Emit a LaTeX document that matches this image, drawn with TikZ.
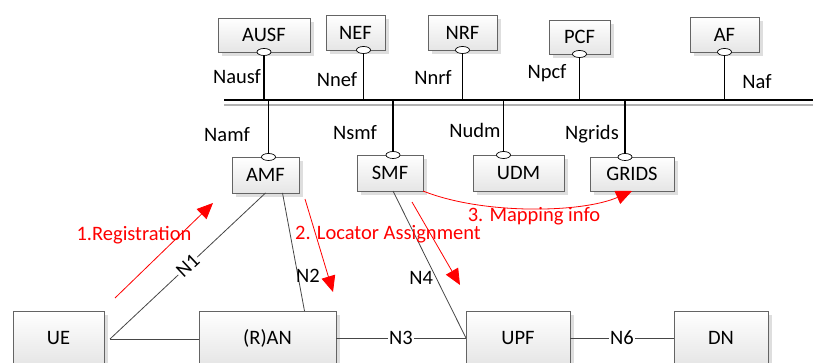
\documentclass[tikz,border=0pt]{standalone}
\usepackage{fontspec}
\setmainfont{Carlito}
\usetikzlibrary{arrows.meta, calc, shadows, shapes.geometric}
\definecolor{myboxline}{RGB}{100, 100, 100}
\definecolor{mylinkgray}{RGB}{70, 70, 70}
\definecolor{myshadow}{RGB}{222, 222, 222}
\definecolor{myred}{RGB}{255, 0, 0}

\tikzset{
  nf/.style={draw=myboxline, line width=0.8pt, top color=white, bottom color=black!10, inner sep=0, outer sep=0, font=\fontsize{20.5}{24}\selectfont, drop shadow={shadow xshift=4pt, shadow yshift=-4pt, fill=myshadow, opacity=1}},
  iface/.style={ellipse, draw=black, fill=white, line width=0.7pt, minimum width=14, minimum height=7, inner sep=0},
  buslink/.style={draw=black, line width=1.6pt},
  link/.style={draw=mylinkgray, line width=0.8pt},
  lbl/.style={font=\fontsize{20.5}{24}\selectfont, inner sep=1},
  lblw/.style={lbl, fill=white},
  redtxt/.style={font=\fontsize{20.5}{24}\selectfont, text=myred, inner sep=0},
  redarrow/.style={draw=myred, line width=0.8pt, -{Triangle[length=16, width=14]}}
}

\begin{document}
\begin{tikzpicture}[x=1pt, y=-1pt]
\useasboundingbox (0,0) rectangle (813,363);

% --- Service bus ---
\coordinate (busL) at (224,100);
\coordinate (busR) at (813,100);
\draw[black!30, line width=1.5pt] ($(busL)+(0,5)$) -- ($(busR)+(0,5)$);
\draw[line width=2pt] (busL) -- (busR);

% --- Top functions ---
\node[nf, minimum width=92, minimum height=34] (AUSF) at (264,35) {AUSF};
\node[nf, minimum width=59, minimum height=35] (NEF) at (355.5,32.5) {NEF};
\node[nf, minimum width=69, minimum height=35] (NRF) at (462.5,32.5) {NRF};
\node[nf, minimum width=61, minimum height=34] (PCF) at (579.5,37) {PCF};
\node[nf, minimum width=69, minimum height=35] (AF) at (724.5,34.5) {AF};

\node[iface] (ausfIf) at (AUSF.south) {};
\node[iface] (nefIf) at ($(NEF.south)+(8,0)$) {};
\node[iface] (nrfIf) at (NRF.south) {};
\node[iface] (pcfIf) at (PCF.south) {};
\node[iface] (afIf) at (AF.south) {};

\draw[buslink] (ausfIf.south) -- (ausfIf.south |- busL);
\draw[buslink] (nefIf.south) -- (nefIf.south |- busL);
\draw[buslink] (nrfIf.south) -- (nrfIf.south |- busL);
\draw[buslink] (pcfIf.south) -- (pcfIf.south |- busL);
\draw[buslink] (afIf.south) -- (afIf.south |- busL);

\node[lbl] (nausf) at (237,77) {Nausf};
\node[lbl] (nnef) at (337,80) {Nnef};
\node[lbl] (nnrf) at (433,77) {Nnrf};
\node[lbl] (npcf) at (547,73) {Npcf};
\node[lbl] (naf) at (757,82) {Naf};

% --- Lower functions ---
\node[nf, minimum width=67, minimum height=36] (AMF) at (265.5,175) {AMF};
\node[nf, minimum width=66, minimum height=36] (SMF) at (390,173) {SMF};
\node[nf, minimum width=91, minimum height=36] (UDM) at (518.5,173) {UDM};
\node[nf, minimum width=84, minimum height=34] (GRIDS) at (632,174) {GRIDS};

\node[iface] (amfIf) at ($(AMF.north)+(3,0)$) {};
\node[iface] (smfIf) at ($(SMF.north)+(3,0)$) {};
\node[iface] (udmIf) at ($(UDM.north)+(-15,0)$) {};
\node[iface] (gridsIf) at ($(GRIDS.north)+(-7,0)$) {};

\draw[buslink] (amfIf.north |- busL) -- (amfIf.north);
\draw[buslink] (smfIf.north |- busL) -- (smfIf.north);
\draw[buslink] (udmIf.north |- busL) -- (udmIf.north);
\draw[buslink] (gridsIf.north |- busL) -- (gridsIf.north);

\node[lbl] (namf) at (227,135) {Namf};
\node[lbl] (nsmf) at (355,133) {Nsmf};
\node[lbl] (nudm) at (475,130) {Nudm};
\node[lbl] (ngrids) at (592,134) {Ngrids};

% --- User plane ---
\node[nf, minimum width=91, minimum height=54] (UE) at (58.5,338) {UE};
\node[nf, minimum width=137, minimum height=54] (RAN) at (267.5,338) {(R)AN};
\node[nf, minimum width=104, minimum height=54] (UPF) at (518,338) {UPF};
\node[nf, minimum width=94, minimum height=54] (DN) at (721,338) {DN};

% --- Reference points ---
\coordinate (uePort) at ($(UE.east)+(6,1)$);
\draw[link] (uePort) -- node[lblw, sloped] {N1} (AMF.south);
\draw[link] (uePort) -- (uePort -| RAN.west);
\draw[link] ($(AMF.south)+(17,0)$) -- node[lbl, pos=0.7, xshift=10] {N2} ($(RAN.north)+(37,0)$);
\draw[link] (RAN.east) -- node[lblw] {N3} (UPF.west);
\draw[link] ($(SMF.south)+(3,0)$) -- node[lbl, pos=0.59, xshift=-15] {N4} (UPF.west);
\draw[link] (UPF.east) -- node[lblw] {N6} (DN.west);

% --- Procedure ---
\coordinate (regA) at (115,298);
\coordinate (regB) at (213,203);
\coordinate (locA) at (305,199);
\coordinate (locB) at (333,292);
\coordinate (locC) at (412,202);
\coordinate (locD) at (460,285);
\draw[redarrow] (regA) -- (regB);
\draw[redarrow] (locA) -- (locB);
\draw[redarrow] (locC) -- (locD);
\draw[redarrow] (SMF.south east) .. controls ($(SMF.south east)+(60,24)$) and ($(GRIDS.south)+(-50,22)$) .. (GRIDS.south);
\node[redtxt] (regTxt) at (134,235) {1.Registration};
\node[redtxt] (locTxt) at (388,234) {2. Locator Assignment};
\node[redtxt] (mapTxt) at (534,216) {3. Mapping info};
\end{tikzpicture}
\end{document}
